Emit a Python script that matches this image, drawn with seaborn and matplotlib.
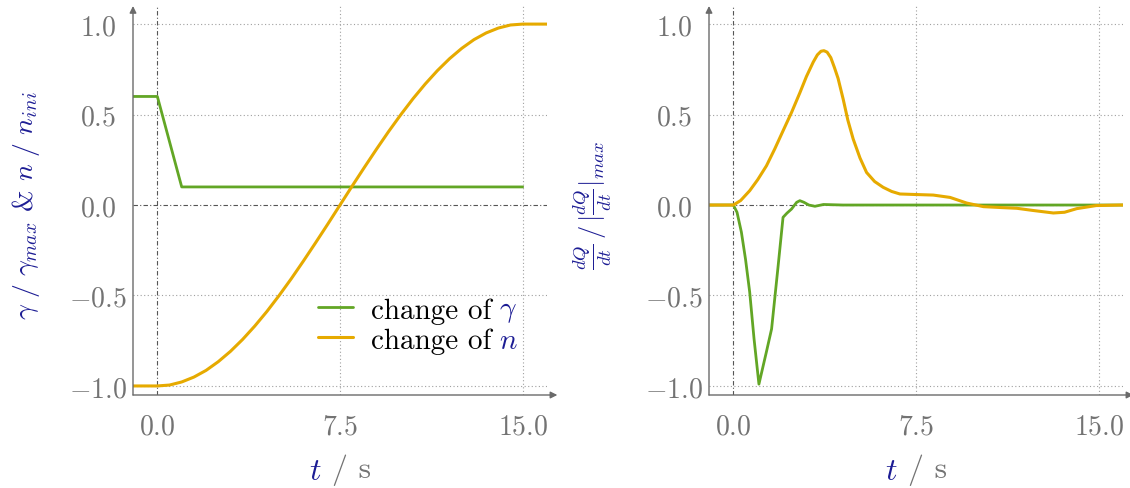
import numpy as np
import pandas as pd
import matplotlib
matplotlib.use("Agg")
import matplotlib.pyplot as plt
import seaborn as sns

# ---------------- data ----------------
t_gamma = [-1.0, 0.0, 1.0, 15.0]
gamma_change = [0.6, 0.6, 0.1, 0.1]

t_n = [-1.0, 0.0, 0.5, 1.0, 1.5, 2.0, 2.5, 3.0, 3.5, 4.0, 4.5, 5.0, 5.5, 6.0, 6.5,
       7.0, 7.5, 8.0, 8.5, 9.0, 9.5, 10.0, 10.5, 11.0, 11.5, 12.0, 12.5, 13.0,
       13.5, 14.0, 14.5, 15.0, 16.0]
n_change = [-1.0, -1.0, -0.995, -0.978, -0.951, -0.914, -0.866, -0.809, -0.743,
            -0.669, -0.588, -0.500, -0.407, -0.309, -0.208, -0.105, 0.0, 0.105,
            0.208, 0.309, 0.407, 0.500, 0.588, 0.669, 0.743, 0.809, 0.866, 0.914,
            0.951, 0.978, 0.995, 1.0, 1.0]

t_dq_gamma = [-1.0, 0.0, 0.15, 0.33, 0.5, 0.67, 0.85, 1.05, 1.36, 1.57, 1.84, 2.04,
              2.2, 2.39, 2.6, 2.73, 2.9, 3.1, 3.35, 3.7, 4.5, 16.0]
dq_gamma = [0.0, 0.0, -0.04, -0.15, -0.3, -0.48, -0.74, -0.99, -0.81, -0.685,
            -0.335, -0.068, -0.045, -0.022, 0.015, 0.024, 0.015, 0.0, -0.007,
            0.003, 0.0, 0.0]

t_dq_n = [-1.0, 0.0, 0.3, 0.67, 1.0, 1.36, 1.7, 2.04, 2.4, 2.73, 3.0, 3.28, 3.45,
          3.6, 3.72, 3.85, 4.0, 4.15, 4.3, 4.51, 4.7, 4.92, 5.2, 5.47, 5.8, 6.15,
          6.5, 6.84, 7.5, 8.21, 8.9, 9.58, 10.27, 11.0, 11.64, 12.3, 13.14, 13.6,
          14.1, 14.9, 15.9, 16.0]
dq_n = [0.0, 0.0, 0.025, 0.079, 0.14, 0.217, 0.31, 0.41, 0.515, 0.62, 0.71, 0.79,
        0.83, 0.85, 0.853, 0.845, 0.815, 0.76, 0.70, 0.585, 0.47, 0.365, 0.26, 0.18,
        0.13, 0.098, 0.075, 0.061, 0.058, 0.055, 0.042, 0.011, -0.009, -0.014,
        -0.018, -0.03, -0.044, -0.04, -0.02, -0.003, 0.0, 0.0]

x_ticks = [0.0, 7.5, 15.0]
y_ticks = [-1.0, -0.5, 0.0, 0.5, 1.0]
legend_labels = ["change of", "change of"]
legend_symbols = [r"$\gamma$", r"$n$"]

# ---------------- style ----------------
sns.set_theme(style="white")
plt.rcParams.update({
    "font.family": "serif",
    "font.serif": ["cmr10", "DejaVu Serif"],
    "mathtext.fontset": "cm",
    "axes.formatter.use_mathtext": True,
    "axes.unicode_minus": True,
})

GREEN = "#62a625"
ORANGE = "#e6aa00"
BLUE = "#1c1c94"
GRAY = "#737373"
AXGRAY = "#6a6a6a"
GRIDC = "#a0a0a0"

fig = plt.figure(figsize=(11.3, 4.89), dpi=100)
ax1 = fig.add_axes([133 / 1130, 93 / 489, 414 / 1130, 389 / 489])
ax2 = fig.add_axes([709 / 1130, 93 / 489, 414 / 1130, 389 / 489])


def style_axes(ax):
    ax.set_xlim(-1.0, 16.0)
    ax.set_ylim(-1.05, 1.1)
    for s in ax.spines.values():
        s.set_visible(False)
    ax.set_xticks(x_ticks)
    ax.set_yticks(y_ticks)
    ax.tick_params(axis="both", direction="in", length=4, width=0.8,
                   color=AXGRAY, labelcolor=GRAY, labelsize=20)
    ax.tick_params(axis="x", pad=13)
    ax.tick_params(axis="y", pad=25)
    plt.setp(ax.get_yticklabels(), ha="center")
    # grid
    for v in [7.5, 15.0]:
        ax.axvline(v, color=GRIDC, lw=0.8, ls=(0, (1, 2.2)), zorder=0)
    for v in [-1.0, -0.5, 0.5, 1.0]:
        ax.axhline(v, color=GRIDC, lw=0.8, ls=(0, (1, 2.2)), zorder=0)
    ax.axvline(0.0, color="#555555", lw=0.8, ls=(0, (4, 2, 1, 2)), zorder=0.5)
    ax.axhline(0.0, color="#555555", lw=0.8, ls=(0, (4, 2, 1, 2)), zorder=0.5)
    # axis lines with arrows
    ax.annotate("", xy=(1.025, 0), xytext=(0, 0), xycoords="axes fraction",
                arrowprops=dict(arrowstyle="-|>", color=AXGRAY, lw=1.0,
                                mutation_scale=10, shrinkA=0, shrinkB=0),
                annotation_clip=False)
    ax.annotate("", xy=(0, 1.0), xytext=(0, 0), xycoords="axes fraction",
                arrowprops=dict(arrowstyle="-|>", color=AXGRAY, lw=1.0,
                                mutation_scale=10, shrinkA=0, shrinkB=0),
                annotation_clip=False)
    # x label: blue t, gray "/ s"
    lab = ax.text(0.48, -0.212, "/ s", transform=ax.transAxes, ha="left",
                  va="baseline", color=GRAY, fontsize=23)
    ax.annotate(r"$t$", xy=(0, 0), xycoords=lab, xytext=(-7, 0),
                textcoords="offset points", ha="right", va="bottom",
                color=BLUE, fontsize=23)


# left panel
df_g = pd.DataFrame({"t": t_gamma, "v": gamma_change})
df_n = pd.DataFrame({"t": t_n, "v": n_change})
sns.lineplot(data=df_g, x="t", y="v", ax=ax1, color=GREEN, lw=2.0,
             label=legend_labels[0], zorder=3)
sns.lineplot(data=df_n, x="t", y="v", ax=ax1, color=ORANGE, lw=2.2,
             label=legend_labels[1], zorder=3)
style_axes(ax1)
ax1.set_xlabel("")
ax1.set_ylabel(r"$\gamma\ /\ \gamma_{max}$ & $n\ /\ n_{ini}$", color=BLUE,
               fontsize=20)
ax1.yaxis.set_label_coords(-0.22, 0.49)

leg = ax1.legend(loc="center left", bbox_to_anchor=(0.447, 0.179),
                 frameon=False, fontsize=21, handlelength=1.2,
                 handletextpad=0.62, labelspacing=0.12, borderpad=0,
                 borderaxespad=0)
for txt, sym in zip(leg.get_texts(), legend_symbols):
    txt.set_color("black")
    ax1.annotate(sym, xy=(1, 0), xycoords=txt, xytext=(5.5, 0),
                 textcoords="offset points", ha="left", va="bottom",
                 color=BLUE, fontsize=21, zorder=10)

# right panel
df_dg = pd.DataFrame({"t": t_dq_gamma, "v": dq_gamma})
df_dn = pd.DataFrame({"t": t_dq_n, "v": dq_n})
sns.lineplot(data=df_dg, x="t", y="v", ax=ax2, color=GREEN, lw=2.0, zorder=3)
sns.lineplot(data=df_dn, x="t", y="v", ax=ax2, color=ORANGE, lw=2.2, zorder=3)
style_axes(ax2)
ax2.set_xlabel("")
ax2.set_ylabel(r"$\frac{dQ}{dt}\,/\,|\frac{dQ}{dt}|_{max}$", color=BLUE,
               fontsize=19)
ax2.yaxis.set_label_coords(-0.23, 0.49)

fig.canvas.draw()
fig.savefig("out.png", dpi=100)
